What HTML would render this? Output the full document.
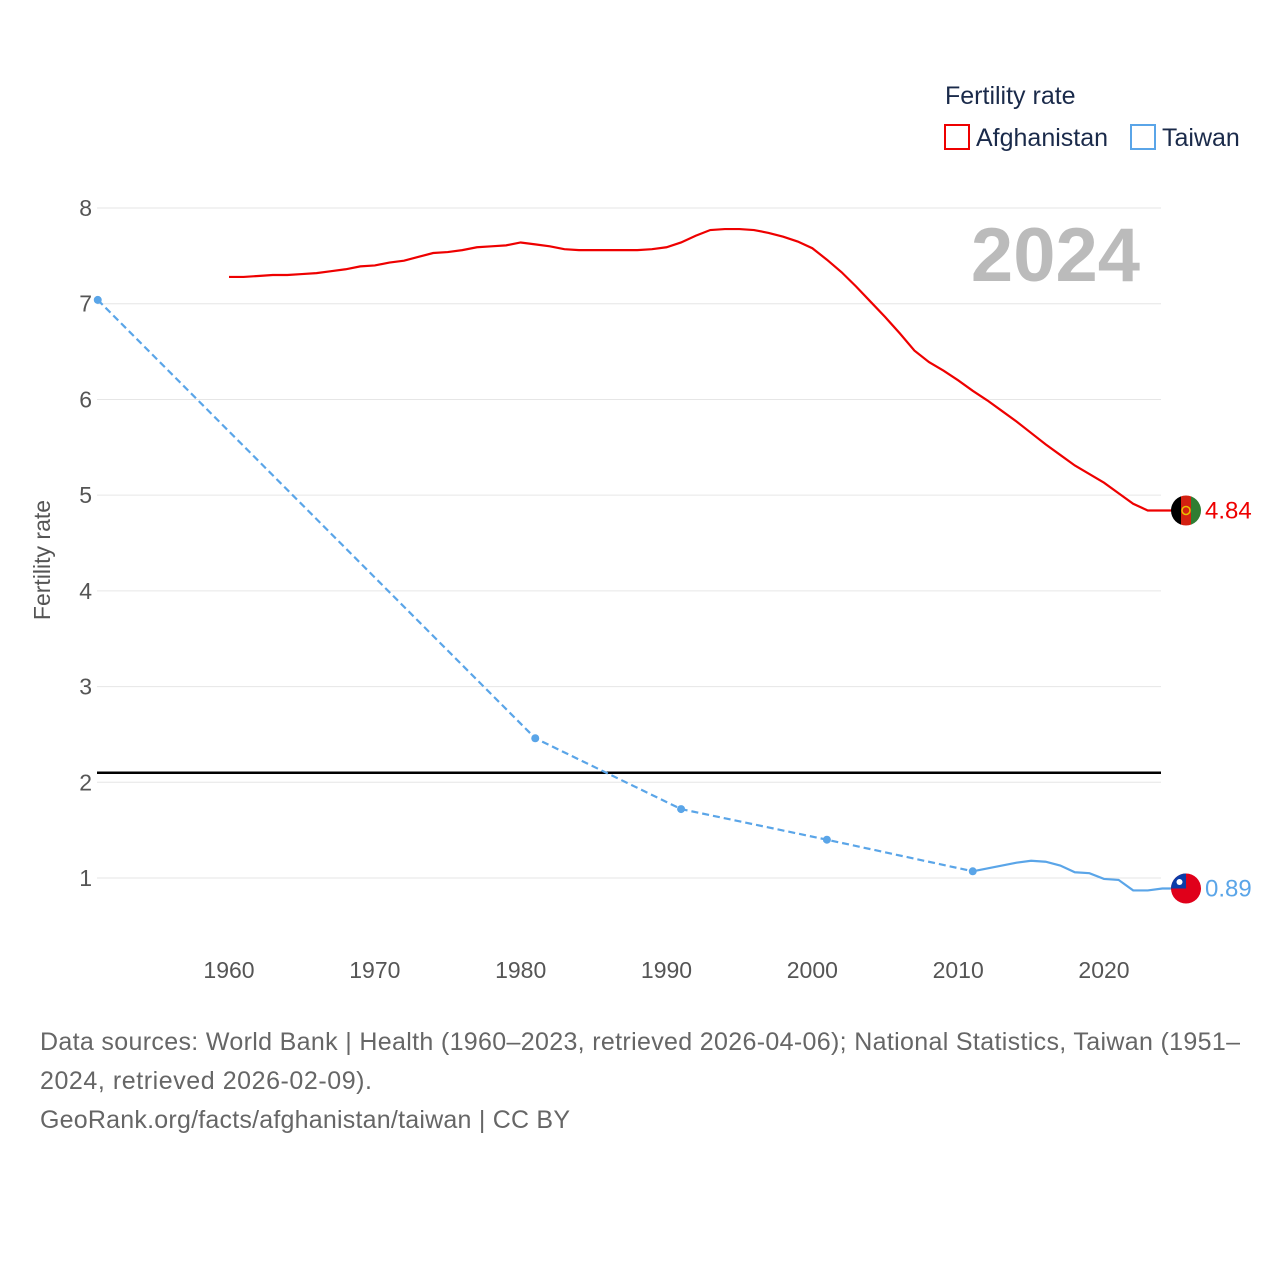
<!DOCTYPE html>
<html><head><meta charset="utf-8"><style>
body{margin:0;background:#fff;font-family:"Liberation Sans",sans-serif;}
svg text{font-family:"Liberation Sans",sans-serif;}
</style></head><body>
<svg width="1280" height="1280" id="chart">
<text x="945" y="104" font-size="25" fill="#1a2a4a">Fertility rate</text>
<rect x="945" y="125" width="24" height="24" fill="none" stroke="#e00" stroke-width="2"/>
<text x="976" y="146" font-size="25" fill="#1a2a4a">Afghanistan</text>
<rect x="1131" y="125" width="24" height="24" fill="none" stroke="#5aa5e8" stroke-width="2"/>
<text x="1162" y="146" font-size="25" fill="#1a2a4a">Taiwan</text>
<text x="1140" y="281" font-size="76" font-weight="bold" fill="#bbb" text-anchor="end">2024</text>
<text transform="translate(50,560) rotate(-90)" font-size="23" fill="#555" text-anchor="middle">Fertility rate</text>
<g id="grid"></g><g id="marks"></g>
<text x="40" y="1050" font-size="25" fill="#666" textLength="1200">Data sources: World Bank | Health (1960–2023, retrieved 2026-04-06); National Statistics, Taiwan (1951–</text>
<text x="40" y="1089" font-size="25" fill="#666" textLength="332">2024, retrieved 2026-02-09).</text>
<text x="40" y="1128" font-size="25" fill="#666" textLength="530">GeoRank.org/facts/afghanistan/taiwan | CC BY</text>
</svg>
<script>
const yTicks=[1,2,3,4,5,6,7,8];
const xTicks=[1960,1970,1980,1990,2000,2010,2020];
const afgYears=[];for(let y=1960;y<=2023;y++)afgYears.push(y);
const afgValues=[7.28,7.28,7.29,7.30,7.30,7.31,7.32,7.34,7.36,7.39,7.40,7.43,7.45,7.49,7.53,7.54,7.56,7.59,7.60,7.61,7.64,7.62,7.60,7.57,7.56,7.56,7.56,7.56,7.56,7.57,7.59,7.64,7.71,7.77,7.78,7.78,7.77,7.74,7.70,7.65,7.58,7.46,7.33,7.18,7.02,6.86,6.69,6.51,6.39,6.30,6.20,6.09,5.99,5.88,5.77,5.65,5.53,5.42,5.31,5.22,5.13,5.02,4.91,4.84];
const twSparseYears=[1951,1981,1991,2001,2011];
const twSparseValues=[7.04,2.46,1.72,1.40,1.07];
const twYears=[2011,2012,2013,2014,2015,2016,2017,2018,2019,2020,2021,2022,2023,2024];
const twValues=[1.07,1.10,1.13,1.16,1.18,1.17,1.13,1.06,1.05,0.99,0.98,0.87,0.87,0.89];
const replacement=2.1;
const X=y=>229+(y-1960)*875/60;
const Y=v=>973.7-v*95.71;
const NS="http://www.w3.org/2000/svg";
function mk(t,a,p){const e=document.createElementNS(NS,t);for(const k in a)e.setAttribute(k,a[k]);p.appendChild(e);return e;}
const g=document.getElementById('grid'),m=document.getElementById('marks');
yTicks.forEach(v=>{
 const l=mk('line',{x1:97,x2:1161,y1:Y(v),y2:Y(v),stroke:'#e6e6e6'},g);
 
 
 const t=mk('text',{x:92,y:Y(v)+8,'font-size':23,fill:'#555','text-anchor':'end'},g);t.textContent=v;
 
 
});
xTicks.forEach(v=>{
 const t=mk('text',{x:X(v),y:978,'font-size':23,fill:'#555','text-anchor':'middle'},g);t.textContent=v;
 
 
});
const rl=mk('line',{x1:97,x2:1161,y1:Y(replacement),y2:Y(replacement),stroke:'#000','stroke-width':2.5},m);


const pts=(ys,vs)=>ys.map((y,i)=>X(y)+','+Y(vs[i])).join(' ');
const a=mk('polyline',{points:pts(afgYears,afgValues)+' '+(X(2024)+10)+','+Y(afgValues[afgValues.length-1]),fill:'none',stroke:'#e00','stroke-width':2.2},m);


const td=mk('polyline',{points:pts(twSparseYears,twSparseValues),fill:'none',stroke:'#5aa5e8','stroke-width':2.2,'stroke-dasharray':'7,4'},m);


twSparseYears.forEach((y,i)=>{const c=mk('circle',{cx:X(y),cy:Y(twSparseValues[i]),r:4,fill:'#5aa5e8'},m);
 
 });
const ts=mk('polyline',{points:pts(twYears,twValues)+' '+(X(2024)+10)+','+Y(twValues[twValues.length-1]),fill:'none',stroke:'#5aa5e8','stroke-width':2.2},m);


const av=afgValues[afgValues.length-1],tv=twValues[twValues.length-1];
const fa=mk('g',{},m);


mk('clipPath',{id:'ca'},fa);mk('circle',{cx:1186,cy:Y(av),r:15},document.getElementById('ca'));
mk('rect',{x:1171,y:Y(av)-15,width:10,height:30,fill:'#000','clip-path':'url(#ca)'},fa);
mk('rect',{x:1181,y:Y(av)-15,width:10,height:30,fill:'#d32011','clip-path':'url(#ca)'},fa);
mk('rect',{x:1191,y:Y(av)-15,width:10,height:30,fill:'#2f7d32','clip-path':'url(#ca)'},fa);
mk('circle',{cx:1186,cy:Y(av),r:4,fill:'none',stroke:'#e8c000','stroke-width':1.5},fa);
const ft=mk('g',{},m);


mk('circle',{cx:1186,cy:Y(tv),r:15,fill:'#e0001a'},ft);
mk('path',{d:`M1171 ${Y(tv)} A15 15 0 0 1 1186 ${Y(tv)-15} L1186 ${Y(tv)} Z`,fill:'#0b3ca8'},ft);
mk('circle',{cx:1179.5,cy:Y(tv)-6.5,r:3,fill:'#fff'},ft);
const la=mk('text',{x:1205,y:Y(av)+8,'font-size':24,fill:'#e00'},m);la.textContent=av.toFixed(2);


const lt=mk('text',{x:1205,y:Y(tv)+8,'font-size':24,fill:'#5aa5e8'},m);lt.textContent=tv.toFixed(2);


</script>
</body></html>
